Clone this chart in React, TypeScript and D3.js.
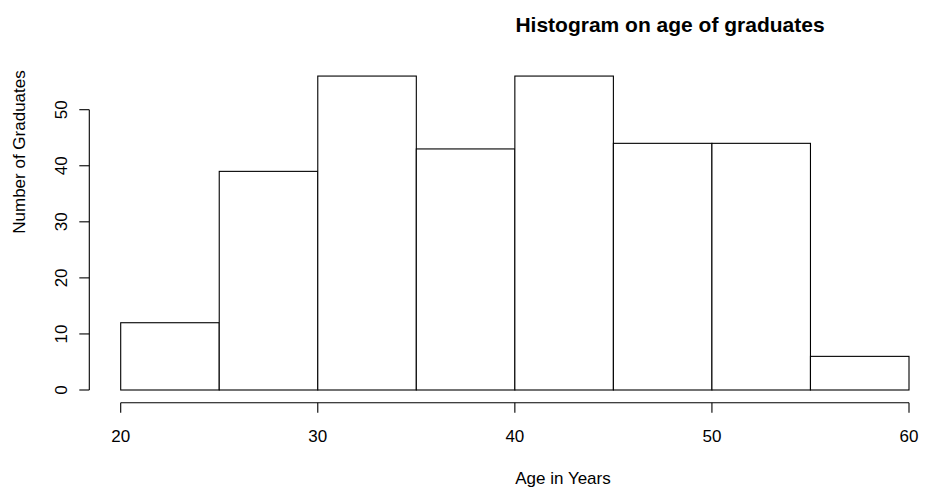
import React from "react";
import * as d3 from "d3";

const breaks = [20, 25, 30, 35, 40, 45, 50, 55, 60];
const counts = [12, 39, 56, 43, 56, 44, 44, 6];
const xTicks = [20, 30, 40, 50, 60];
const yTicks = [0, 10, 20, 30, 40, 50];
const title = "Histogram on age of graduates";
const xLabel = "Age in Years";
const yLabel = "Number of Graduates";

export default function App() {
  const W = 930, H = 487;
  const x = d3.scaleLinear().domain([20, 60]).range([120.7, 909]);
  const y = d3.scaleLinear().domain([0, 50]).range([390, 109.7]);
  const font = "'Liberation Sans', Arial, sans-serif";
  const axisY = 402.7;
  const axisX = 89.3;
  return (
    <svg width={W} height={H} style={{ position: "absolute", left: 0, top: 0, background: "#fff" }} fontFamily={font}>
      <rect x={0} y={0} width={W} height={H} fill="#fff" />
      {counts.map((c, i) => (
        <rect key={i} x={x(breaks[i])} y={y(c)} width={x(breaks[i + 1]) - x(breaks[i])} height={y(0) - y(c)}
          fill="#fff" stroke="#000" strokeWidth={1.1} />
      ))}
      {/* x axis */}
      <line x1={x(xTicks[0])} x2={x(xTicks[xTicks.length - 1])} y1={axisY} y2={axisY} stroke="#000" strokeWidth={1.1} />
      {xTicks.map(t => (
        <g key={t}>
          <line x1={x(t)} x2={x(t)} y1={axisY} y2={axisY + 10} stroke="#000" strokeWidth={1.1} />
          <text x={x(t)} y={442} textAnchor="middle" fontSize={17}>{t}</text>
        </g>
      ))}
      {/* y axis */}
      <line x1={axisX} x2={axisX} y1={y(yTicks[0])} y2={y(yTicks[yTicks.length - 1])} stroke="#000" strokeWidth={1.1} />
      {yTicks.map(t => (
        <g key={t}>
          <line x1={axisX - 10} x2={axisX} y1={y(t)} y2={y(t)} stroke="#000" strokeWidth={1.1} />
          <text transform={`translate(67,${y(t)}) rotate(-90)`} textAnchor="middle" fontSize={17}>{t}</text>
        </g>
      ))}
      <text x={670} y={32} textAnchor="middle" fontSize={21} fontWeight="bold">{title}</text>
      <text x={563} y={484} textAnchor="middle" fontSize={17}>{xLabel}</text>
      <text transform={`translate(25,152) rotate(-90)`} textAnchor="middle" fontSize={17}>{yLabel}</text>
    </svg>
  );
}
